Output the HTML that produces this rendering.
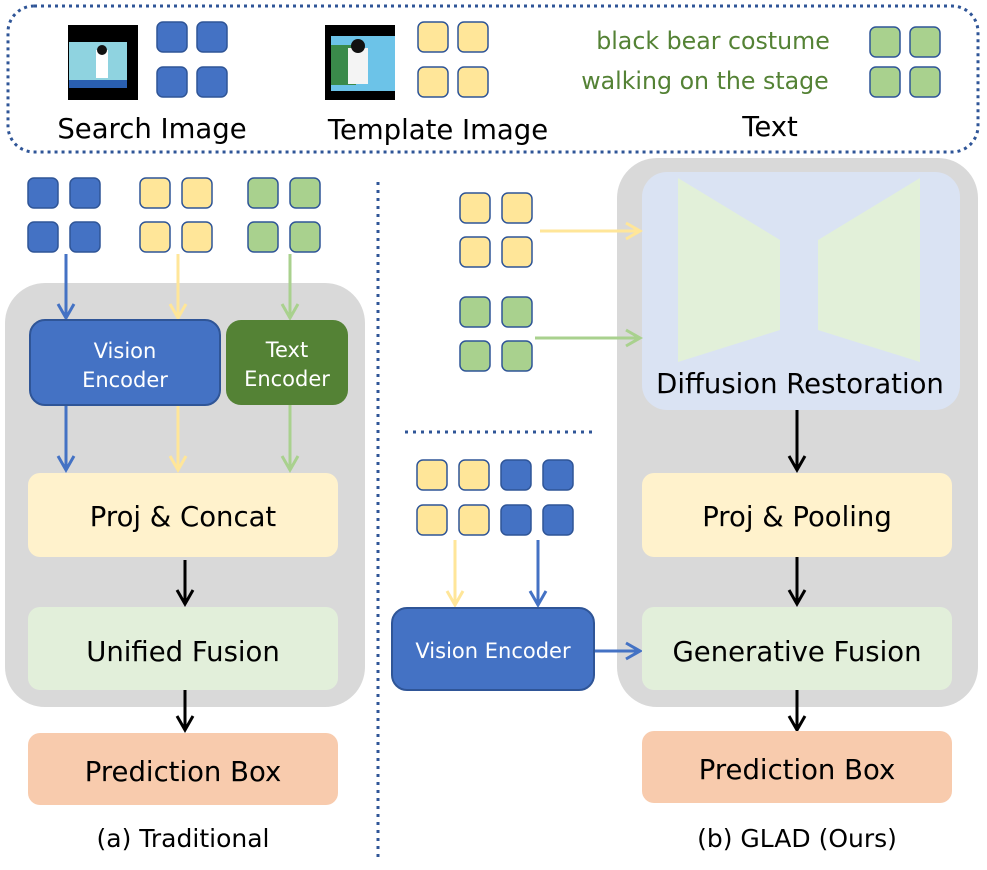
<!DOCTYPE html>
<html><head><meta charset="utf-8"><style>
html,body{margin:0;padding:0;background:#fff}
svg{display:block}
text{font-family:"DejaVu Sans","Liberation Sans",sans-serif}
</style></head><body>
<svg width="987" height="870" viewBox="0 0 987 870" xmlns="http://www.w3.org/2000/svg">
<defs>
<g id="tb"><rect width="30" height="30" rx="6" fill="#4472c4" stroke="#2f5597" stroke-width="1.5"/></g>
<g id="ty"><rect width="30" height="30" rx="6" fill="#ffe699" stroke="#2f5597" stroke-width="1.5"/></g>
<g id="tg"><rect width="30" height="30" rx="6" fill="#a9d18e" stroke="#2f5597" stroke-width="1.5"/></g>
</defs>
<!-- top box -->
<rect x="8" y="6" width="970" height="146" rx="26" fill="none" stroke="#2f5597" stroke-width="3" stroke-dasharray="3,4"/>
<rect x="68" y="25" width="70" height="75" fill="#000"/>
<rect x="69" y="42" width="58" height="46" fill="#8fd3e0"/>
<rect x="69" y="80" width="58" height="8" fill="#2a5fb0"/>
<rect x="96" y="50" width="12" height="28" fill="#fff"/><circle cx="102" cy="50" r="5" fill="#111"/>
<use href="#tb" x="157" y="22"/><use href="#tb" x="197" y="22"/><use href="#tb" x="157" y="67"/><use href="#tb" x="197" y="67"/>
<rect x="325" y="25" width="70" height="75" fill="#000"/>
<rect x="331" y="36" width="64" height="55" fill="#6cc3e8"/>
<rect x="331" y="45" width="25" height="40" fill="#3a8a4a"/>
<rect x="348" y="48" width="20" height="36" fill="#f4f4f4"/><circle cx="358" cy="46" r="7" fill="#111"/>
<use href="#ty" x="418" y="22"/><use href="#ty" x="458" y="22"/><use href="#ty" x="418" y="67"/><use href="#ty" x="458" y="67"/>
<text x="152" y="138" font-size="27.5" text-anchor="middle">Search Image</text>
<text x="438" y="139" font-size="27.5" text-anchor="middle">Template Image</text>
<text x="713" y="49" font-size="23.7" fill="#548235" text-anchor="middle">black bear costume</text>
<text x="705" y="89" font-size="23.7" fill="#548235" text-anchor="middle">walking on the stage</text>
<text x="770" y="136" font-size="27.5" text-anchor="middle">Text</text>
<use href="#tg" x="870" y="27"/><use href="#tg" x="910" y="27"/><use href="#tg" x="870" y="67"/><use href="#tg" x="910" y="67"/>

<!-- left panel -->
<rect x="5" y="283" width="360" height="424" rx="40" fill="#d9d9d9"/>
<use href="#tb" x="28" y="178"/><use href="#tb" x="70" y="178"/><use href="#tb" x="28" y="222"/><use href="#tb" x="70" y="222"/>
<use href="#ty" x="140" y="178"/><use href="#ty" x="182" y="178"/><use href="#ty" x="140" y="222"/><use href="#ty" x="182" y="222"/>
<use href="#tg" x="248" y="178"/><use href="#tg" x="290" y="178"/><use href="#tg" x="248" y="222"/><use href="#tg" x="290" y="222"/>
<g stroke-width="3" fill="none">
<path d="M66 254V316 M58 304L66 318L74 304" stroke="#4472c4"/>
<path d="M178 254V316 M170 304L178 318L186 304" stroke="#ffe699"/>
<path d="M290 254V316 M282 304L290 318L298 304" stroke="#a9d18e"/>
<path d="M66 405V468 M58 456L66 470L74 456" stroke="#4472c4"/>
<path d="M178 340V468 M170 456L178 470L186 456" stroke="#ffe699"/>
<path d="M290 405V468 M282 456L290 470L298 456" stroke="#a9d18e"/>
<path d="M185 560V602 M177 590L185 604L193 590" stroke="#000"/>
<path d="M185 690V728 M177 716L185 730L193 716" stroke="#000"/>
</g>
<rect x="30" y="320" width="190" height="85" rx="15" fill="#4472c4" stroke="#2f5597" stroke-width="2"/>
<text x="125" y="358" font-size="21" fill="#fff" text-anchor="middle">Vision</text>
<text x="125" y="387" font-size="21" fill="#fff" text-anchor="middle">Encoder</text>
<rect x="226" y="320" width="122" height="85" rx="15" fill="#548235"/>
<text x="287" y="357" font-size="21" fill="#fff" text-anchor="middle">Text</text>
<text x="287" y="386" font-size="21" fill="#fff" text-anchor="middle">Encoder</text>
<rect x="28" y="473" width="310" height="84" rx="12" fill="#fff2cc"/>
<text x="183" y="526" font-size="27.5" text-anchor="middle">Proj &amp; Concat</text>
<rect x="28" y="607" width="310" height="83" rx="12" fill="#e2efda"/>
<text x="183" y="661" font-size="27.5" text-anchor="middle">Unified Fusion</text>
<rect x="28" y="733" width="310" height="72" rx="12" fill="#f8cbad"/>
<text x="183" y="781" font-size="27.5" text-anchor="middle">Prediction Box</text>
<text x="183" y="847" font-size="25" text-anchor="middle">(a) Traditional</text>

<line x1="378" y1="182" x2="378" y2="860" stroke="#2f5597" stroke-width="3" stroke-dasharray="3,5"/>

<!-- right panel -->
<rect x="617" y="158" width="361" height="549" rx="40" fill="#d9d9d9"/>
<rect x="642" y="172" width="318" height="238" rx="25" fill="#dae3f3"/>
<polygon points="678,178 780,240 780,330 678,362" fill="#e2f0d9"/>
<polygon points="920,178 818,240 818,330 920,362" fill="#e2f0d9"/>
<text x="800" y="393" font-size="27.5" text-anchor="middle">Diffusion Restoration</text>
<use href="#ty" x="460" y="193"/><use href="#ty" x="502" y="193"/><use href="#ty" x="460" y="237"/><use href="#ty" x="502" y="237"/>
<use href="#tg" x="460" y="297"/><use href="#tg" x="502" y="297"/><use href="#tg" x="460" y="341"/><use href="#tg" x="502" y="341"/>
<line x1="405" y1="432" x2="595" y2="432" stroke="#2f5597" stroke-width="3" stroke-dasharray="3,5"/>
<use href="#ty" x="417" y="460"/><use href="#ty" x="459" y="460"/><use href="#tb" x="501" y="460"/><use href="#tb" x="543" y="460"/>
<use href="#ty" x="417" y="505"/><use href="#ty" x="459" y="505"/><use href="#tb" x="501" y="505"/><use href="#tb" x="543" y="505"/>
<g stroke-width="3" fill="none">
<path d="M540 231H638 M626 223L640 231L626 239" stroke="#ffe699"/>
<path d="M535 338H638 M626 330L640 338L626 346" stroke="#a9d18e"/>
<path d="M455 540V603 M447 591L455 605L463 591" stroke="#ffe699"/>
<path d="M538 540V603 M530 591L538 605L546 591" stroke="#4472c4"/>
<path d="M594 651H638 M626 643L640 651L626 659" stroke="#4472c4"/>
<path d="M797 410V468 M789 456L797 470L805 456" stroke="#000"/>
<path d="M797 557V602 M789 590L797 604L805 590" stroke="#000"/>
<path d="M797 690V728 M789 716L797 730L805 716" stroke="#000"/>
</g>
<rect x="392" y="608" width="202" height="82" rx="15" fill="#4472c4" stroke="#2f5597" stroke-width="2"/>
<text x="493" y="658" font-size="21" fill="#fff" text-anchor="middle">Vision Encoder</text>
<rect x="642" y="473" width="310" height="84" rx="12" fill="#fff2cc"/>
<text x="797" y="526" font-size="27.5" text-anchor="middle">Proj &amp; Pooling</text>
<rect x="642" y="607" width="310" height="83" rx="12" fill="#e2efda"/>
<text x="797" y="661" font-size="27.5" text-anchor="middle">Generative Fusion</text>
<rect x="642" y="731" width="310" height="72" rx="12" fill="#f8cbad"/>
<text x="797" y="779" font-size="27.5" text-anchor="middle">Prediction Box</text>
<text x="797" y="847" font-size="25" text-anchor="middle">(b) GLAD (Ours)</text>
</svg>
</body></html>
